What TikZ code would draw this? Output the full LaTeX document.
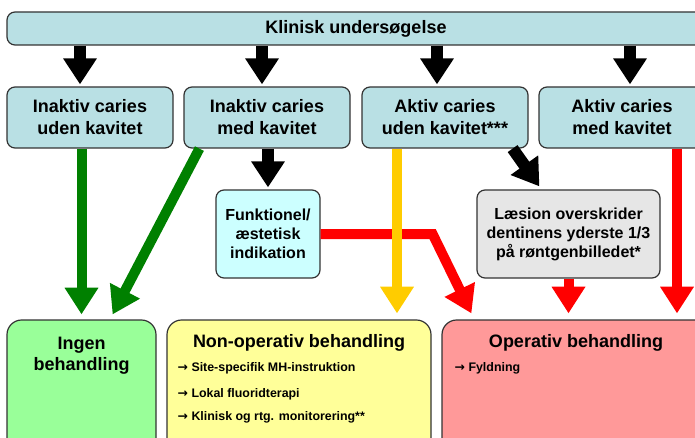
\documentclass[tikz,border=0pt]{standalone}
\usepackage{fontspec}
\setmainfont{Liberation Sans}
\newfontfamily\arrowfont{DejaVu Sans}
\usetikzlibrary{arrows.meta,calc,positioning}

\definecolor{cariesblue}{RGB}{185,224,228}
\definecolor{funkcyan}{RGB}{204,255,255}
\definecolor{laesgray}{RGB}{230,230,230}
\definecolor{ingengreen}{RGB}{153,255,153}
\definecolor{nonyellow}{RGB}{255,255,153}
\definecolor{oprose}{RGB}{255,153,153}
\definecolor{arrgreen}{RGB}{0,128,0}
\definecolor{arryellow}{RGB}{255,204,0}

\newcommand{\pil}{{\arrowfont\bfseries →}}

\tikzset{
  box/.style={draw=black!80, line width=0.9pt, rounded corners=6pt, align=center, inner sep=0pt,
    font=\bfseries\fontsize{13.5}{16.5}\selectfont},
  smallbox/.style={box, font=\bfseries\fontsize{12}{14.25}\selectfont},
  bigbox/.style={box, rounded corners=11pt, minimum height=105pt},
  boxtitle/.style={font=\bfseries\fontsize{13.5}{16}\selectfont, align=center, inner sep=0pt},
  item/.style={font=\bfseries\fontsize{9.3}{11}\selectfont, inner sep=0pt, anchor=west},
  blk/.style={line width=9pt, -{Triangle[width=24pt,length=19.5pt]}},
  thk/.style={line width=7.5pt, -{Triangle[width=24pt,length=20pt]}},
}

\begin{document}
\begin{tikzpicture}[x=0.75pt, y=-0.75pt]
\useasboundingbox (0,0) rectangle (695,438);
\clip (0,0) rectangle (695,438);

% top row
\node[box, fill=cariesblue, minimum width=523.5pt, minimum height=24.75pt] (ku) at (356,28.5) {Klinisk undersøgelse};
\node[box, fill=cariesblue, minimum width=124.5pt, minimum height=45.75pt] (iu) at (90,117.5) {Inaktiv caries\\uden kavitet};
\node[box, fill=cariesblue, minimum width=124.5pt, minimum height=45.75pt] (im) at (267,117.5) {Inaktiv caries\\med kavitet};
\node[box, fill=cariesblue, minimum width=124.5pt, minimum height=45.75pt] (au) at (445,117.5) {Aktiv caries\\uden kavitet***};
\node[box, fill=cariesblue, minimum width=124.5pt, minimum height=45.75pt] (am) at (622,117.5) {Aktiv caries\\med kavitet};

% middle row
\node[smallbox, fill=funkcyan, minimum width=78pt, minimum height=66pt] (fk) at (268,234) {Funktionel/\\æstetisk\\indikation};
\node[smallbox, fill=laesgray, minimum width=137.25pt, minimum height=66pt] (ls) at (568.5,234) {Læsion overskrider\\dentinens yderste 1/3\\på røntgenbilledet*};

% bottom row
\node[bigbox, fill=ingengreen, minimum width=111.75pt] (ing) at (81.5,390) {};
\node[bigbox, fill=nonyellow, minimum width=198pt] (nop) at (299,390) {};
\node[bigbox, fill=oprose, minimum width=201pt] (op) at (576,390) {};

\node[boxtitle] (ingt) at ($(ing.north)+(0,36)$) {Ingen\\behandling};
\node[boxtitle] (nopt) at ($(nop.north)+(0,23)$) {Non-operativ behandling};
\node[item] (nb1) at ($(nop.north west)+(11,49)$) {\pil\ Site-specifik MH-instruktion};
\node[item] (nb2) at ($(nop.north west)+(11,74.5)$) {\pil\ Lokal fluoridterapi};
\node[item] (nb3) at ($(nop.north west)+(11,98)$) {\pil\ Klinisk og rtg. monitorering**};
\node[boxtitle] (opt) at ($(op.north)+(0,23)$) {Operativ behandling};
\node[item] (ob1) at ($(op.north west)+(13,49)$) {\pil\ Fyldning};

% black arrows
\draw[blk, shorten >=1.5pt] ($(iu.north |- ku.south)+(-10,0)$) -- ($(iu.north)+(-10,0)$);
\draw[blk, shorten >=1.5pt] ($(im.north |- ku.south)+(-5,0)$) -- ($(im.north)+(-5,0)$);
\draw[blk, shorten >=1.5pt] ($(au.north |- ku.south)+(-8,0)$) -- ($(au.north)+(-8,0)$);
\draw[blk, shorten >=1.5pt] ($(am.north |- ku.south)+(8,0)$) -- ($(am.north)+(8,0)$);
\draw[blk, shorten >=1.5pt] (im.south -| fk.north) -- (fk.north);
\draw[blk] ($(au.south east)+(-16,0)$) -- ($(ls.north west)+(63,-3)$);

% green arrows
\draw[thk, arrgreen] (ing.north |- iu.south) -- ($(ing.north)+(0,-5)$);
\draw[thk, arrgreen] ($(im.south west)+(16,0)$) -- ($(ing.north east)+(-44,-5)$);

% red arrows
\draw[thk, red] (fk.east) -- ++(112,0) -- ($(op.north west)+(30,-6)$);
\draw[thk, red] (ls.south) -- ($(ls.south |- op.north)+(0,-6)$);
\draw[thk, red] ($(am.south)+(55,0)$) -- ($(am.south |- op.north)+(55,-6)$);

% yellow arrow
\draw[thk, arryellow] ($(au.south)+(-48,0)$) -- ($(au.south |- nop.north)+(-48,-6)$);
\end{tikzpicture}
\end{document}
